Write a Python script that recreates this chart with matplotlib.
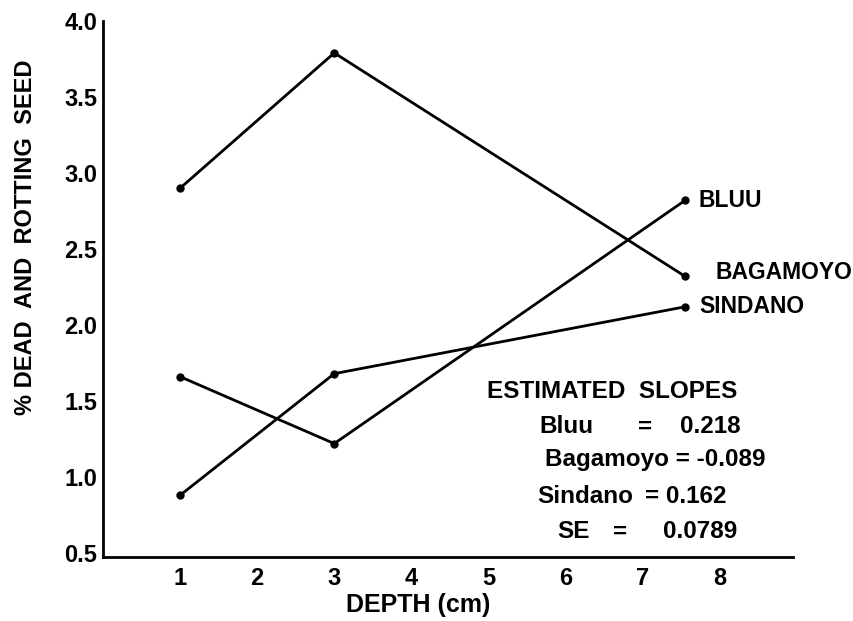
import matplotlib
matplotlib.use("Agg")
import matplotlib.pyplot as plt

# depths (cm) at which seed was sampled
depth = [1, 3, 7.55]

# % dead and rotting seed per variety
bagamoyo = [2.90, 3.79, 2.32]
bluu = [1.66, 1.22, 2.82]
sindano = [0.88, 1.68, 2.12]

series_names = ["BAGAMOYO", "BLUU", "SINDANO"]
x_ticks = [1, 2, 3, 4, 5, 6, 7, 8]
y_ticks = [0.5, 1.0, 1.5, 2.0, 2.5, 3.0, 3.5, 4.0]
y_tick_labels = ["0.5", "1.0", "1.5", "2.0", "2.5", "3.0", "3.5", "4.0"]

plt.rcParams["font.family"] = ["Liberation Sans", "DejaVu Sans"]
plt.rcParams["font.weight"] = "bold"
plt.rcParams["axes.labelweight"] = "bold"

fig = plt.figure(figsize=(8.54, 6.21), dpi=100)
ax = fig.add_axes([0.1206, 0.1031, 0.808, 0.8631])

# label offsets in points from the last point of each line
label_offsets = {"BAGAMOYO": (22, 3), "BLUU": (10, 0), "SINDANO": (10, 0)}

for name, vals in zip(series_names, [bagamoyo, bluu, sindano]):
    ax.plot(depth, vals, color="black", lw=2.0, marker="o", ms=5,
            solid_joinstyle="round")
    ax.annotate(name, (depth[-1], vals[-1]), xytext=label_offsets[name],
                textcoords="offset points", ha="left", va="center",
                fontsize=16.5)

ax.set_xlim(0, 8.95)
ax.set_ylim(0.474, 4.0)
ax.set_xticks(x_ticks)
ax.set_yticks(y_ticks, y_tick_labels)
ax.tick_params(length=0, labelsize=17)
ax.tick_params(axis="x", pad=7)
ax.tick_params(axis="y", pad=4)

for side in ["top", "right"]:
    ax.spines[side].set_visible(False)
for side in ["left", "bottom"]:
    ax.spines[side].set_linewidth(2.0)

ax.set_xlabel("DEPTH (cm)", fontsize=18, va="center")
ax.xaxis.set_label_coords(0.457, -0.09)
ax.set_ylabel("% DEAD  AND  ROTTING  SEED", fontsize=17, va="center")
ax.yaxis.set_label_coords(-0.113, 0.597)

# estimated slopes block
tkw = dict(transform=ax.transAxes, fontsize=17.5, va="center")
ax.text(0.557, 0.308, "ESTIMATED  SLOPES", ha="left", **tkw)
ax.text(0.633, 0.2425, "Bluu", ha="left", **tkw)
ax.text(0.786, 0.2425, "=", ha="center", **tkw)
ax.text(0.836, 0.2425, "0.218", ha="left", **tkw)
ax.text(0.640, 0.181, "Bagamoyo = -0.089", ha="left", **tkw)
ax.text(0.630, 0.112, "Sindano", ha="left", **tkw)
ax.text(0.786, 0.112, "= 0.162", ha="left", **tkw)
ax.text(0.659, 0.047, "SE", ha="left", **tkw)
ax.text(0.749, 0.047, "=", ha="center", **tkw)
ax.text(0.812, 0.047, "0.0789", ha="left", **tkw)

fig.savefig("out.png", dpi=100)
